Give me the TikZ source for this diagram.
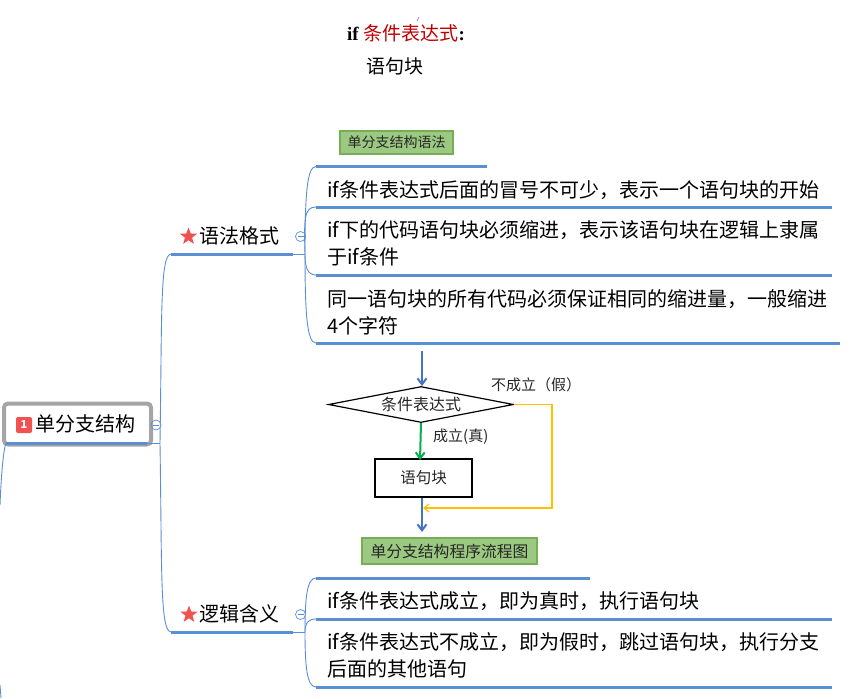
\documentclass[tikz,border=0pt]{standalone}
\usepackage{fontspec}
\usepackage{xcolor}
\usetikzlibrary{shapes.geometric,arrows.meta}
\setmainfont{Noto Sans CJK SC}
\newfontfamily\timesfont{Liberation Serif}
\definecolor{mapblue}{HTML}{5B8FD4}
\definecolor{flowblue}{HTML}{4472C4}
\definecolor{flowgreen}{HTML}{00B050}
\definecolor{flowyellow}{HTML}{FFC000}
\definecolor{tagfill}{HTML}{9CC981}
\definecolor{tagedge}{HTML}{77AE55}
\definecolor{markred}{HTML}{F05252}
\definecolor{rootgray}{HTML}{A5A5A5}
\tikzset{
	branchline/.style={draw=mapblue, line width=0.9pt},
	topicline/.style={draw=mapblue, line width=3pt},
	maintext/.style={anchor=west, inner sep=0pt, align=left, font=\fontsize{20}{27}\selectfont},
	foldmark/.style={circle, draw=mapblue, line width=0.7pt, inner sep=0pt, minimum size=10pt,
		path picture={\draw[mapblue, line width=0.7pt] ([xshift=2pt]path picture bounding box.west) -- ([xshift=-2pt]path picture bounding box.east);}},
	starmark/.style={star, star points=5, star point ratio=2.4, fill=markred, inner sep=0pt, minimum size=18pt},
	tagbox/.style={draw=tagedge, fill=tagfill, line width=1.2pt, inner sep=0pt, text=black!85},
	flowarrow/.style={-{Straight Barb[length=6pt,width=9pt]}, line width=2pt},
	flowtext/.style={inner sep=0pt, font=\fontsize{15}{15}\selectfont, text=black!85}
}
\begin{document}
\begin{tikzpicture}[x=1pt, y=-1pt]
	\useasboundingbox (0,0) rectangle (850,698);

	% Syntax at the top
	\node[anchor=west, inner sep=0pt, font=\fontsize{19}{19}\selectfont] (ifline) at (347,33) {{\timesfont\bfseries if }\textcolor{red!75!black}{条件表达式}{\timesfont\bfseries :}};
	\node[anchor=west, inner sep=0pt, font=\fontsize{19}{19}\selectfont] (ifbody) at (366,66) {语句块};
	\coordinate (ticktop) at (419,17);
	\coordinate (tickend) at (417,21);
	\draw[flowblue, line width=0.6pt] (ticktop) -- (tickend);

	% Root
	\node[draw=rootgray, line width=4pt, rounded corners=4pt, minimum width=147pt, minimum height=41pt, inner sep=0pt] (rootbox) at (77.5,424) {};
	\node[fill=markred, rounded corners=2pt, minimum size=16pt, inner sep=0pt, text=white, font=\fontsize{11}{11}\selectfont\bfseries] (rootbadge) at (24,425) {1};
	\node[maintext] (roottext) at (35,424) {单分支结构};
	\coordinate (rootL) at (6,443);
	\coordinate (rootR) at (147,443);
	\coordinate (rootstem) at (160,443);
	\coordinate (rootleftA) at (0,505);
	\coordinate (rootleftB) at (1,698);
	\coordinate (rootleftC) at (0,685);
	\draw[topicline] (rootL) -- (rootR);
	\draw[branchline] (rootR) -- (rootstem);
	\draw[branchline] (rootL) .. controls +(-3,8) and +(1,-25) .. (rootleftA);
	\draw[branchline] (rootleftC) -- (rootleftB);
	\node[foldmark] (rootfold) at (156,425) {};

	% Syntax branch
	\coordinate (gramL) at (171,254);
	\coordinate (gramR) at (293,254);
	\coordinate (gramstem) at (305,254);
	\draw[topicline] (gramL) -- (gramR);
	\draw[branchline] (gramR) -- (gramstem);
	\draw[branchline] (rootstem) .. controls +(2,-130) and +(-11,1) .. (gramL);
	\node[starmark] (gramstar) at (188.5,236.5) {};
	\node[maintext] (gramtext) at (199.5,236) {语法格式};
	\node[foldmark] (gramfold) at (300.5,236.5) {};

	\node[tagbox, minimum width=113pt, minimum height=23pt, font=\fontsize{14}{14}\selectfont] (gramtag) at (396.5,142.5) {单分支结构语法};

	\coordinate (rowoneL) at (316,166.5);
	\coordinate (rowoneR) at (487,166.5);
	\coordinate (rowtwoL) at (316,207);
	\coordinate (rowtwoR) at (832,207);
	\coordinate (rowthreeL) at (316,275);
	\coordinate (rowthreeR) at (832,275);
	\coordinate (rowfourL) at (316,343);
	\coordinate (rowfourR) at (840,343);
	\draw[topicline] (rowoneL) -- (rowoneR);
	\draw[topicline] (rowtwoL) -- (rowtwoR);
	\draw[topicline] (rowthreeL) -- (rowthreeR);
	\draw[topicline] (rowfourL) -- (rowfourR);
	\draw[branchline] (gramstem) .. controls +(0,-60) and +(-9,0) .. (rowoneL);
	\draw[branchline] (gramstem) .. controls +(-1,-35) and +(-12,0) .. (rowtwoL);
	\draw[branchline] (gramstem) .. controls +(0,12) and +(-9,0) .. (rowthreeL);
	\draw[branchline] (gramstem) .. controls +(0,60) and +(-9,0) .. (rowfourL);
	\node[maintext] (rowonetext) at (327,190) {if条件表达式后面的冒号不可少，表示一个语句块的开始};
	\node[maintext] (rowtwotext) at (327,243.5) {if下的代码语句块必须缩进，表示该语句块在逻辑上隶属\\于if条件};
	\node[maintext] (rowthreetext) at (327,312) {同一语句块的所有代码必须保证相同的缩进量，一般缩进\\4个字符};

	% Flow chart
	\coordinate (flowstart) at (422,351);
	\node[diamond, draw, line width=1.2pt, aspect=5.1, minimum width=185pt, minimum height=36pt, inner sep=0pt, font=\fontsize{16}{16}\selectfont, text=black!85] (cond) at (421,404.5) {条件表达式};
	\node[draw, line width=1.2pt, minimum width=97pt, minimum height=38pt, inner sep=0pt, font=\fontsize{15.5}{15.5}\selectfont, text=black!85] (block) at (423.5,478) {语句块};
	\coordinate (flowend) at (422,532);
	\coordinate (flowjoin) at (423,508);
	\coordinate (flowcorner) at (552,508);
	\draw[flowarrow, flowblue] (flowstart) -- (422,386);
	\draw[flowarrow, flowgreen] (cond.south) -- (420,460);
	\draw[flowarrow, flowblue] (block.south -| flowend) -- (flowend);
	\draw[-{Straight Barb[length=5pt,width=8pt]}, flowyellow, line width=1.2pt] (cond.east) -| (flowcorner) -- (flowjoin);
	\node[flowtext, anchor=west] (falselabel) at (491,385) {不成立（假）};
	\node[flowtext, anchor=west] (truelabel) at (433,437) {成立(真)};
	\node[tagbox, minimum width=175pt, minimum height=26pt, font=\fontsize{15.8}{15.8}\selectfont] (flowtag) at (449.5,551) {单分支结构程序流程图};

	% Logic branch
	\coordinate (logicL) at (171,632);
	\coordinate (logicR) at (293,632);
	\coordinate (logicstem) at (305,632);
	\draw[topicline] (logicL) -- (logicR);
	\draw[branchline] (logicR) -- (logicstem);
	\draw[branchline] (rootstem) .. controls +(2,130) and +(-11,-1) .. (logicL);
	\node[starmark] (logicstar) at (189,614.5) {};
	\node[maintext] (logictext) at (199.5,614) {逻辑含义};
	\node[foldmark] (logicfold) at (300.5,614.5) {};

	\coordinate (rowfiveL) at (316,578);
	\coordinate (rowfiveR) at (590,578);
	\coordinate (rowsixL) at (316,619);
	\coordinate (rowsixR) at (832,619);
	\coordinate (rowsevenL) at (316,687);
	\coordinate (rowsevenR) at (832,687);
	\draw[topicline] (rowfiveL) -- (rowfiveR);
	\draw[topicline] (rowsixL) -- (rowsixR);
	\draw[topicline] (rowsevenL) -- (rowsevenR);
	\draw[branchline] (logicstem) .. controls +(0,-35) and +(-9,0) .. (rowfiveL);
	\draw[branchline] (logicstem) .. controls +(0,-9) and +(-8,0) .. (rowsixL);
	\draw[branchline] (logicstem) .. controls +(0,35) and +(-9,0) .. (rowsevenL);
	\node[maintext] (rowfivetext) at (327,601) {if条件表达式成立，即为真时，执行语句块};
	\node[maintext] (rowsixtext) at (327,655.5) {if条件表达式不成立，即为假时，跳过语句块，执行分支\\后面的其他语句};
\end{tikzpicture}
\end{document}
